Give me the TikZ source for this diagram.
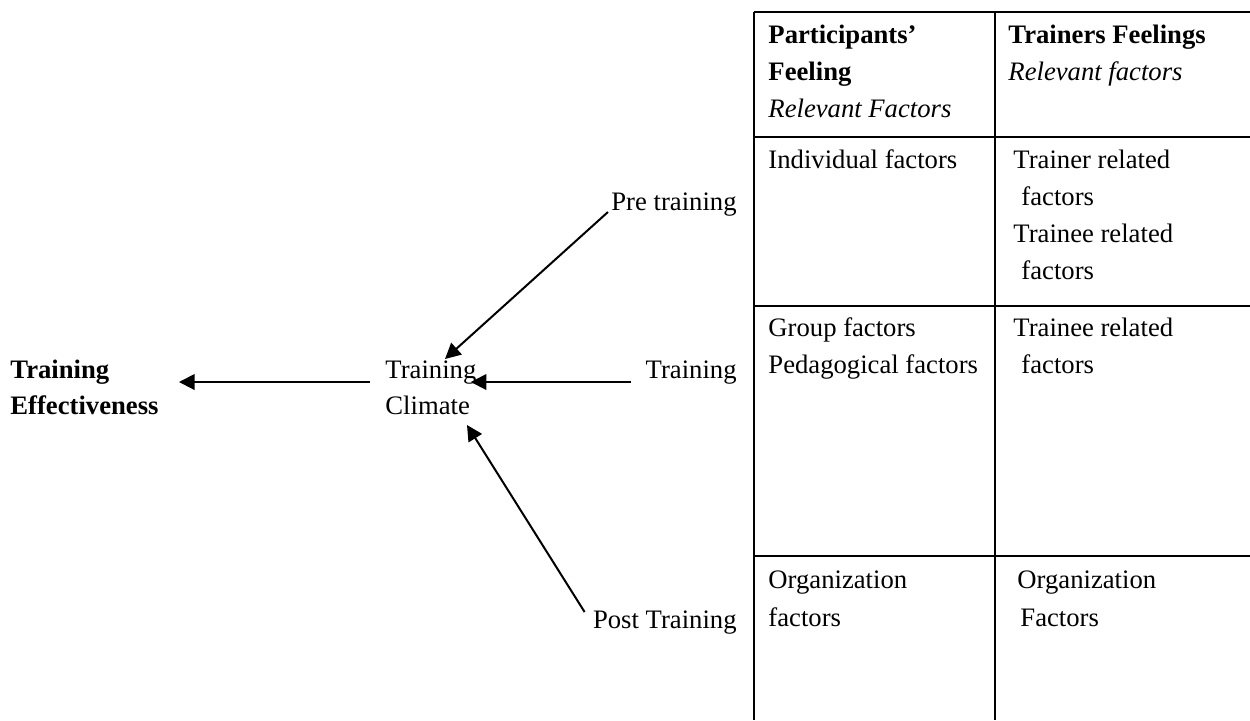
\documentclass[tikz,border=0pt]{standalone}
\usepackage{fontspec}
\setmainfont{Liberation Serif}
\usetikzlibrary{arrows.meta,calc}

\begin{document}
\begin{tikzpicture}[x=0.45pt,y=-0.45pt,
    txt/.style={anchor=base west,inner sep=0pt,font=\fontsize{12}{14}\selectfont},
    rtxt/.style={anchor=base east,inner sep=0pt,font=\fontsize{12}{14}\selectfont},
    arr/.style={line width=0.9pt,-{Triangle[length=7pt,width=7pt]}},
    rule/.style={line width=0.9pt}]
\useasboundingbox (0,0) rectangle (1250,720);

% left part
\node[txt] (eff1) at (10,378) {\textbf{Training}};
\node[txt] (eff2) at (10,414) {\textbf{Effectiveness}};
\node[txt] (clim1) at (385,378) {Training};
\node[txt] (clim2) at (385,414) {Climate};
\node[rtxt] (pre) at (737,210) {Pre training};
\node[rtxt] (during) at (737,378) {Training};
\node[rtxt] (post) at (737,628) {Post Training};

\draw[arr] ($(clim1.base west)+(-15,4)$) -- ($(eff2.base east)+(20,-32)$);
\draw[arr] ($(during.base west)+(-14,4)$) -- ($(clim1.base east)+(-6,4)$);
\draw[arr] ($(pre.base west)+(-3,2)$) -- ($(clim1.base west)+(60,-19)$);
\draw[arr] ($(post.base west)+(-8,-16)$) -- ($(clim2.base west)+(82,11)$);

% table
\foreach \y in {12,137,306,556}
    \draw[rule] (754,\y) -- (1250,\y);
\foreach \x in {754,995}
    \draw[rule] (\x,12) -- (\x,720);

% header
\node[txt] (h1a) at (768,43) {\textbf{Participants’}};
\node[txt] (h1b) at (768,80) {\textbf{Feeling}};
\node[txt] (h1c) at (768,117) {\textit{Relevant Factors}};
\node[txt] (h2a) at (1008,43) {\textbf{Trainers Feelings}};
\node[txt] (h2b) at (1008,80) {\textit{Relevant factors}};

% pre training row
\node[txt] (p1) at (768,168) {Individual factors};
\node[txt] (t1a) at (1013,168) {Trainer related};
\node[txt] (t1b) at (1021,205) {factors};
\node[txt] (t1c) at (1013,242) {Trainee related};
\node[txt] (t1d) at (1021,279) {factors};

% training row
\node[txt] (p2a) at (768,336) {Group factors};
\node[txt] (p2b) at (768,373) {Pedagogical factors};
\node[txt] (t2a) at (1013,336) {Trainee related};
\node[txt] (t2b) at (1021,373) {factors};

% post training row
\node[txt] (p3a) at (768,588) {Organization};
\node[txt] (p3b) at (768,626) {factors};
\node[txt] (t3a) at (1017,588) {Organization};
\node[txt] (t3b) at (1020,626) {Factors};
\end{tikzpicture}
\end{document}
